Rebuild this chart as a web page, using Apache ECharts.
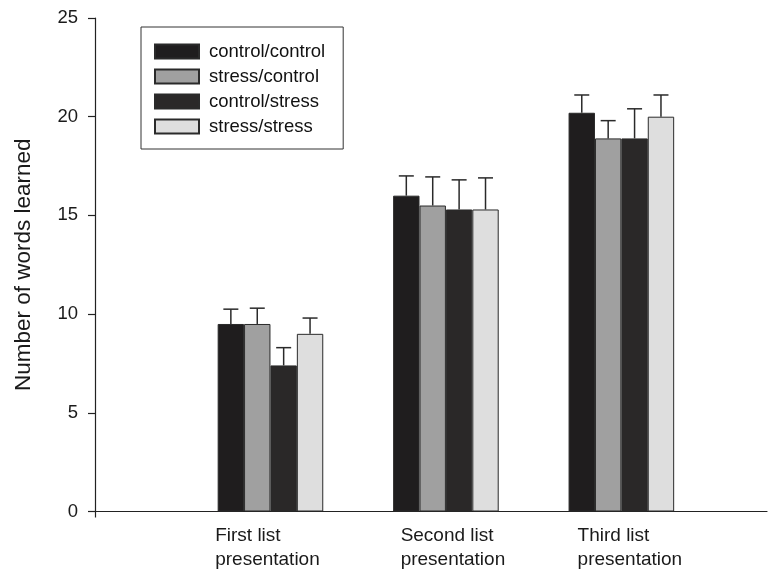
<!DOCTYPE html>
<html>
<head>
<meta charset="utf-8">
<script src="https://cdn.jsdelivr.net/npm/echarts@6/dist/echarts.min.js"></script>
<style>html,body{margin:0;padding:0;background:#fff;}#c{width:770px;height:569px;}</style>
</head>
<body>
<div id="c"></div>
<script>
// ---- data ----
var categories = ['First list\npresentation', 'Second list\npresentation', 'Third list\npresentation'];
var groupPos = [1, 2, 3];
var seriesNames = ['control/control', 'stress/control', 'control/stress', 'stress/stress'];
var ccMean = [9.5, 16.0, 20.2];
var scMean = [9.5, 15.5, 18.9];
var csMean = [7.4, 15.3, 18.9];
var ssMean = [9.0, 15.3, 20.0];
var ccErr = [0.75, 1.0, 0.9];
var scErr = [0.8, 1.45, 0.9];
var csErr = [0.9, 1.5, 1.5];
var ssErr = [0.8, 1.6, 1.1];
var yTicks = [0, 5, 10, 15, 20, 25];

// ---- chart ----
var means = [ccMean, scMean, csMean, ssMean];
var errs = [ccErr, scErr, csErr, ssErr];
var colors = ['#1f1d1e', '#a0a0a0', '#2a2828', '#dedede'];
var BW = 26.4;
var font = '"Liberation Sans", Arial, Helvetica, sans-serif';

var series = [];
seriesNames.forEach(function (name, i) {
  series.push({
    name: name,
    type: 'bar',
    barWidth: BW,
    barGap: '0%',
    itemStyle: { color: colors[i], borderColor: '#2a2a2a', borderWidth: 1 },
    data: groupPos.map(function (p, j) { return [p, means[i][j]]; }),
    z: 2
  });
});
seriesNames.forEach(function (name, i) {
  series.push({
    type: 'custom',
    name: name + ' err',
    silent: true,
    z: 3,
    data: groupPos.map(function (p, j) { return [p, means[i][j], means[i][j] + errs[i][j]]; }),
    renderItem: function (params, api) {
      var base = api.coord([api.value(0), api.value(1)]);
      var top = api.coord([api.value(0), api.value(2)]);
      var x = base[0] + (i - 1.5) * BW;
      var cap = 7.5;
      return {
        type: 'group',
        children: [
          { type: 'line', shape: { x1: x, y1: base[1], x2: x, y2: top[1] }, style: { stroke: '#2a2a2a', lineWidth: 1.5 } },
          { type: 'line', shape: { x1: x - cap, y1: top[1], x2: x + cap, y2: top[1] }, style: { stroke: '#2a2a2a', lineWidth: 1.5 } }
        ]
      };
    }
  });
});

var rich = {};
var pads = [[0, 6, 0, 0], [0, 0, 0, 14], [0, 0, 0, 17]];
pads.forEach(function (p, k) {
  rich['l' + k] = { align: 'left', padding: p, fontSize: 19, lineHeight: 24, color: '#1a1a1a', fontFamily: font };
});

var chart = echarts.init(document.getElementById('c'));
chart.setOption({
  backgroundColor: '#fff',
  animation: false,
  textStyle: { fontFamily: font },
  legend: {
    orient: 'vertical',
    left: 141,
    top: 27,
    padding: [15, 18, 13, 13],
    itemWidth: 44,
    itemHeight: 14,
    itemGap: 6,
    icon: 'rect',
    borderColor: '#333',
    borderWidth: 1,
    textStyle: { fontSize: 18.5, color: '#111', fontFamily: font, padding: [0, 0, 0, 5] },
    data: seriesNames
  },
  grid: { left: 95, right: 3, top: 18, bottom: 57, containLabel: false },
  xAxis: {
    type: 'value',
    min: 0,
    max: 3.83,
    splitLine: { show: false },
    axisLine: { show: true, lineStyle: { color: '#222', width: 1.2 } },
    axisTick: { show: true, customValues: [0], length: 6, lineStyle: { color: '#222', width: 1.2 } },
    axisLabel: {
      customValues: groupPos,
      margin: 12,
      fontSize: 19,
      color: '#1a1a1a',
      rich: rich,
      formatter: function (v) {
        var k = groupPos.indexOf(v);
        if (k < 0) return '';
        return categories[k].split('\n').map(function (s) { return '{l' + k + '|' + s + '}'; }).join('\n');
      }
    }
  },
  yAxis: {
    type: 'value',
    min: yTicks[0],
    max: yTicks[yTicks.length - 1],
    interval: 5,
    name: 'Number of words learned',
    nameLocation: 'middle',
    nameGap: 60,
    nameTextStyle: { fontSize: 22.5, color: '#1a1a1a', fontFamily: font },
    splitLine: { show: false },
    axisLine: { show: true, lineStyle: { color: '#222', width: 1.2 } },
    axisTick: { show: true, length: 7, lineStyle: { color: '#222', width: 1.2 } },
    axisLabel: { fontSize: 18.5, color: '#1a1a1a', margin: 17, fontFamily: font }
  },
  series: series
});
</script>
</body>
</html>
